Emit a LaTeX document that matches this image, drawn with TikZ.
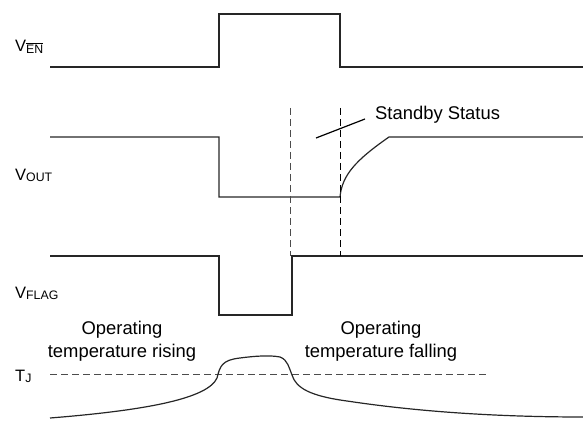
\documentclass[tikz,border=0pt]{standalone}
\usepackage{fontspec}
\setmainfont{Liberation Sans}
\usetikzlibrary{positioning}
\tikzset{
  wave/.style={line width=1.2pt,color=black!85,line join=miter},
  guide/.style={line width=1pt,dash pattern=on 7pt off 4pt},
  lbl/.style={inner sep=0pt,font=\fontsize{18.4}{23}\selectfont},
}
\newcommand{\signame}[2]{{\fontsize{16.5}{20}\selectfont #1}\raisebox{-1.5pt}{\fontsize{12.3}{14}\selectfont #2}}
\begin{document}
\begin{tikzpicture}[x=1pt,y=-1pt]
  \useasboundingbox (0,0) rectangle (583,422);
  \draw[wave] (50,67) -- (219,67) -- (219,14) -- (340,14) -- (340,67) -- (583,67);
  \draw[wave] (50,137) -- (219,137) -- (219,197) -- (340,197) .. controls (342,175) and (356,160) .. (389,137) -- (583,137);
  \draw[wave] (50,256) -- (219,256) -- (219,315) -- (292,315) -- (292,256) -- (583,256);
  \draw[guide,color=black!70] (290,108) -- (290,256);
  \draw[guide,color=black] (340,108) -- (340,256);
  \draw[guide,color=black!70] (50,374) -- (487,374);
  \draw[wave] (50,418) .. controls (150,410) and (208,398) .. (217,378)
    .. controls (220,366) and (222,360) .. (240,358) .. controls (255,356) and (270,355) .. (280,357)
    .. controls (288,360) and (289,368) .. (292,375) .. controls (296,388) and (310,396) .. (347,401)
    .. controls (420,412) and (500,417) .. (583,417);
  \node[lbl,anchor=base west] (ven) at (15,52) {\signame{V}{$\overline{\mbox{EN}}$}};
  \node[lbl,anchor=base west] (vout) at (15,180) {\signame{V}{OUT}};
  \node[lbl,anchor=base west] (vflag) at (15,298) {\signame{V}{FLAG}};
  \node[lbl,anchor=base west] (tj) at (15,381) {\signame{T}{J}};
  \node[lbl,anchor=base west] (standby) at (375,120) {Standby Status};
  \coordinate (sbtail) at (316,138);
  \draw[line width=1.2pt] (sbtail) -- ([xshift=-10pt,yshift=1pt]standby.base west);
  \node[lbl,align=center,anchor=base] (rising) at (122,357) {Operating\\temperature rising};
  \node[lbl,align=center,anchor=base] (falling) at (381,357) {Operating\\temperature falling};
\end{tikzpicture}
\end{document}
